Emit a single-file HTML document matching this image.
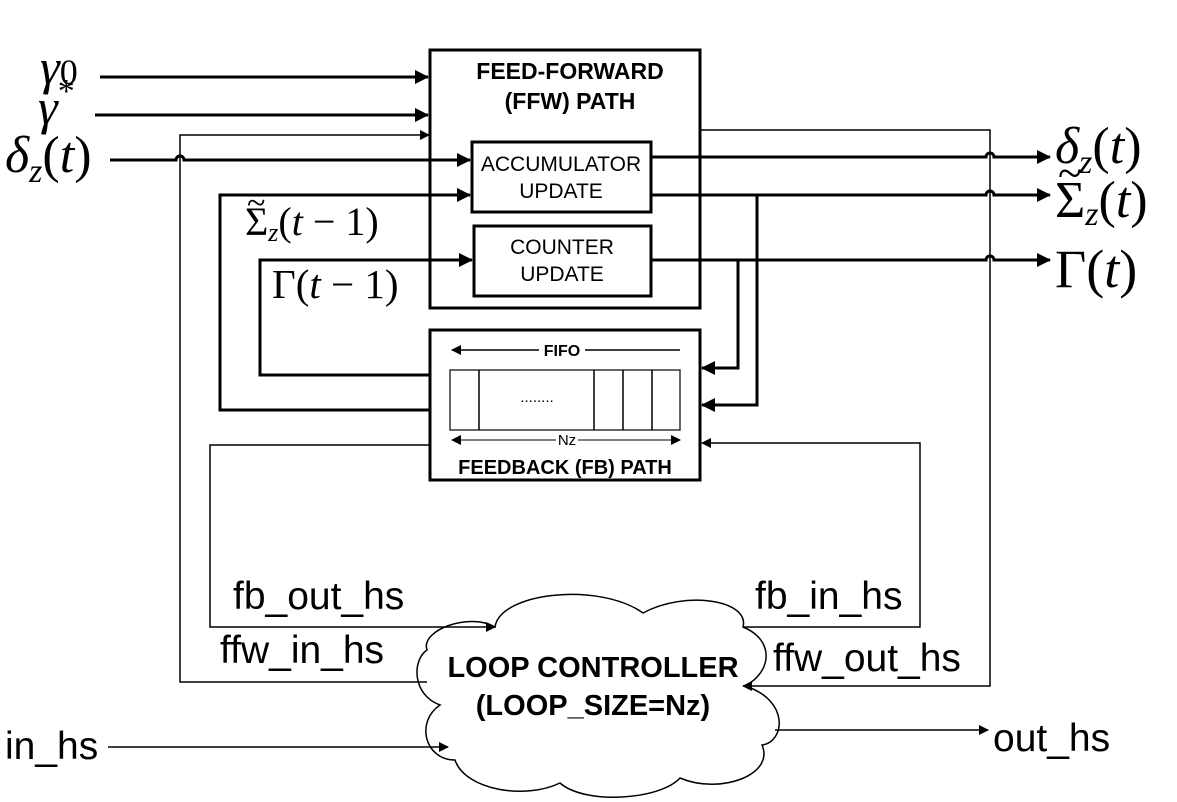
<!DOCTYPE html>
<html><head><meta charset="utf-8"><style>
html,body{margin:0;padding:0;background:#fff;}
svg{display:block;}
.m{font-family:"Liberation Serif",serif;font-style:italic;}
.r{font-family:"Liberation Serif",serif;}
.s{font-family:"Liberation Sans",sans-serif;}
</style></head><body>
<svg width="1177" height="802" viewBox="0 0 1177 802" xmlns="http://www.w3.org/2000/svg">
<defs>
<marker id="a" markerWidth="10" markerHeight="10" refX="9" refY="5" orient="auto" markerUnits="userSpaceOnUse"><path d="M0,0 L10,5 L0,10 z" fill="#000"/></marker>
<marker id="a2" markerWidth="14" markerHeight="14" refX="13" refY="7" orient="auto" markerUnits="userSpaceOnUse"><path d="M0,0 L14,7 L0,14 z" fill="#000"/></marker>
</defs>
<!-- cloud -->
<path d="M495,627 C500,592 600,582 643,613 C685,590 750,600 743,627 C775,640 772,672 745,686 C790,700 785,742 762,745 C775,775 720,795 680,778 C660,800 585,805 560,783 C525,800 465,790 455,760 C425,760 415,722 440,705 C412,695 412,660 427,650 C420,630 470,612 495,627 Z" stroke="#000" stroke-width="1.5" fill="#fff"/>
<g fill="none" stroke="#000">
<!-- boxes -->
<rect x="430" y="50" width="270" height="258" stroke-width="3"/>
<rect x="472" y="142" width="179" height="70" stroke-width="3"/>
<rect x="474" y="226" width="177" height="70" stroke-width="3"/>
<rect x="430" y="330" width="270" height="150" stroke-width="3"/>
<rect x="450" y="370" width="230" height="60" stroke-width="1.5" stroke="#333"/>
<path d="M479,370V430M594,370V430M623,370V430M652,370V430" stroke-width="1.5"/>
<!-- inputs -->
<path d="M100,77H428" stroke-width="3" marker-end="url(#a2)"/>
<path d="M95,115H428" stroke-width="3" marker-end="url(#a2)"/>
<path d="M110,160H176 a4,4 0 0 1 8,0 H470" stroke-width="3" marker-end="url(#a2)"/>
<path d="M427,682H180V135H429" stroke-width="1.5" marker-end="url(#a)"/>
<path d="M430,410H220V195H470" stroke-width="3" marker-end="url(#a2)"/>
<path d="M430,375H260V260H472" stroke-width="3" marker-end="url(#a2)"/>
<!-- outputs -->
<path d="M651,157H986 a4,4 0 0 1 8,0 H1050" stroke-width="3" marker-end="url(#a2)"/>
<path d="M651,195H986 a4,4 0 0 1 8,0 H1050" stroke-width="3" marker-end="url(#a2)"/>
<path d="M651,260H986 a4,4 0 0 1 8,0 H1050" stroke-width="3" marker-end="url(#a2)"/>
<path d="M757,195V405H702" stroke-width="3" marker-end="url(#a2)"/>
<path d="M738,260V368H702" stroke-width="3" marker-end="url(#a2)"/>
<path d="M700,130H990V686H743" stroke-width="1.5" marker-end="url(#a)"/>
<!-- handshake -->
<path d="M743,627H920V443H702" stroke-width="1.5" marker-end="url(#a)"/>
<path d="M430,445H210V627H495" stroke-width="1.5" marker-end="url(#a)"/>
<path d="M108,747H448" stroke-width="1.5" marker-end="url(#a)"/>
<path d="M775,730H988" stroke-width="1.5" marker-end="url(#a)"/>
<!-- fifo arrows -->
<path d="M539,350H452" stroke-width="1.5" marker-end="url(#a)"/>
<path d="M585,350H680" stroke-width="1.5"/>
<path d="M556,440H452" stroke-width="1" marker-end="url(#a)"/>
<path d="M578,440H680" stroke-width="1" marker-end="url(#a)"/>
</g>
<g class="s" text-anchor="middle" font-weight="bold" font-size="23">
<text x="570" y="79">FEED-FORWARD</text>
<text x="570" y="109">(FFW) PATH</text>
<text x="565" y="474" font-size="20">FEEDBACK (FB) PATH</text>
<text x="562" y="356" font-size="16">FIFO</text>
<text x="593" y="677" font-size="29">LOOP CONTROLLER</text>
<text x="593" y="715" font-size="29">(LOOP_SIZE=Nz)</text>
</g>
<g class="s" text-anchor="middle" font-size="21">
<text x="561" y="171">ACCUMULATOR</text>
<text x="561" y="198">UPDATE</text>
<text x="562" y="254">COUNTER</text>
<text x="562" y="281">UPDATE</text>
<text x="567" y="445" font-size="15">Nz</text>
<text x="537" y="402" font-size="15">........</text>
</g>
<g class="s" font-size="39">
<text x="233" y="609">fb_out_hs</text>
<text x="220" y="663">ffw_in_hs</text>
<text x="755" y="609">fb_in_hs</text>
<text x="773" y="671">ffw_out_hs</text>
<text x="5" y="759">in_hs</text>
<text x="993" y="751">out_hs</text>
</g>
<g>
<text x="40" y="84" class="m" font-size="50">γ<tspan class="r" font-size="36" font-style="normal">0</tspan></text>
<text x="38" y="124" class="m" font-size="50">γ<tspan font-size="34" dy="-22" class="r" font-style="normal">*</tspan></text>
<text x="5" y="172" class="m" font-size="52">δ<tspan font-size="34" dy="10">z</tspan><tspan dy="-10" class="r" font-style="normal">(</tspan>t<tspan class="r" font-style="normal">)</tspan></text>
<text x="1055" y="163" class="m" font-size="52">δ<tspan font-size="34" dy="10">z</tspan><tspan dy="-10" class="r" font-style="normal">(</tspan>t<tspan class="r" font-style="normal">)</tspan></text>
<text x="1058" y="188" class="r" font-size="44">~</text>
<text x="1055" y="217" class="r" font-size="52">Σ<tspan font-size="34" dy="8" font-style="italic">z</tspan><tspan dy="-8">(</tspan><tspan font-style="italic">t</tspan>)</text>
<text x="1055" y="287" class="r" font-size="54">Γ(<tspan font-style="italic">t</tspan>)</text>
<text x="247" y="214" class="r" font-size="34">~</text>
<text x="245" y="235" class="r" font-size="40">Σ<tspan font-size="26" dy="6" font-style="italic">z</tspan><tspan dy="-6">(</tspan><tspan font-style="italic">t</tspan> − 1)</text>
<text x="272" y="298" class="r" font-size="41">Γ(<tspan font-style="italic">t</tspan> − 1)</text>
</g>
</svg>
</body></html>
